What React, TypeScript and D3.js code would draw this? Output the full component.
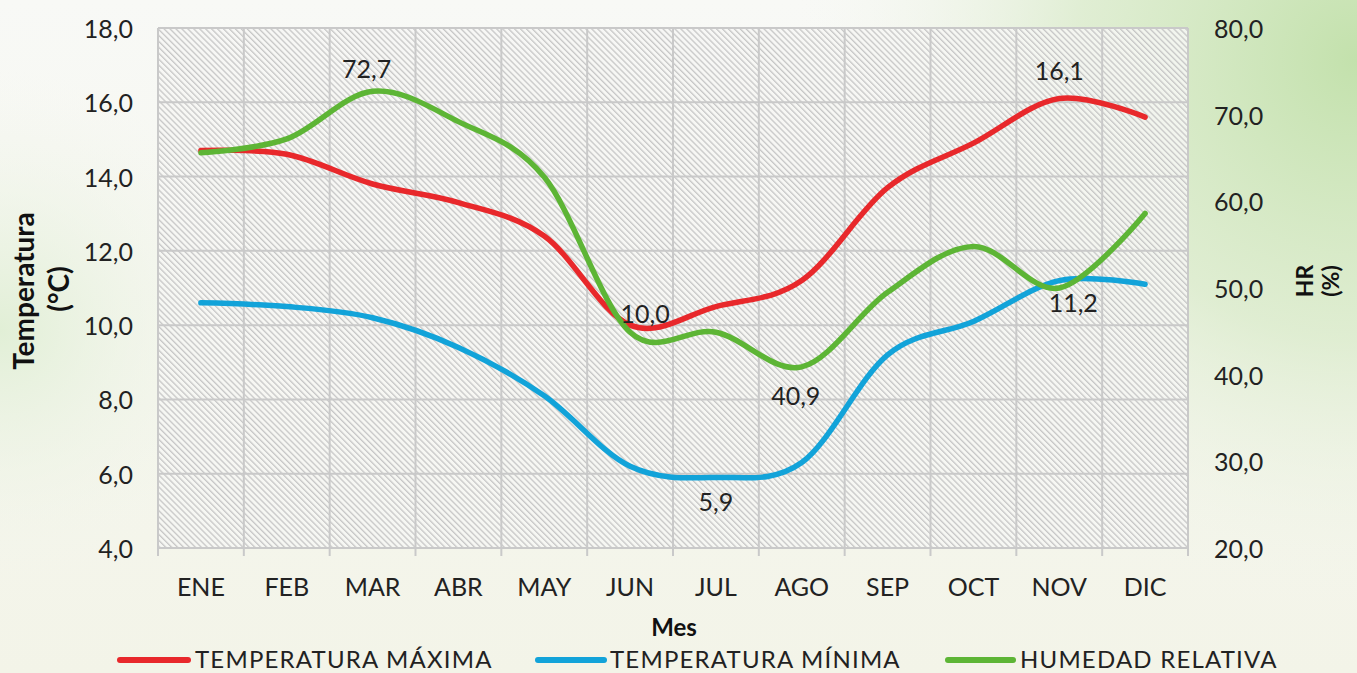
import React from "react";
import * as d3 from "d3";

const months = ["ENE", "FEB", "MAR", "ABR", "MAY", "JUN", "JUL", "AGO", "SEP", "OCT", "NOV", "DIC"];
const tempMax = [14.7, 14.6, 13.8, 13.3, 12.4, 10.0, 10.5, 11.2, 13.7, 14.9, 16.1, 15.6];
const tempMin = [10.6, 10.5, 10.2, 9.4, 8.1, 6.2, 5.9, 6.3, 9.2, 10.1, 11.2, 11.1];
const humedad = [65.6, 67.2, 72.7, 69.2, 62.8, 44.9, 44.9, 40.9, 49.5, 54.8, 50.0, 58.6];
const leftTicks = [4, 6, 8, 10, 12, 14, 16, 18];
const rightTicks = [20, 30, 40, 50, 60, 70, 80];
const seriesNames = ["TEMPERATURA MÁXIMA", "TEMPERATURA MÍNIMA", "HUMEDAD RELATIVA"];
const colors = ["#e8282b", "#12a3d9", "#5db535"];

// annotated values: series index, month index, offset
const labels = [
  { s: 2, i: 2, dx: -6, dy: -23 },
  { s: 0, i: 5, dx: 15, dy: -12 },
  { s: 1, i: 6, dx: 0, dy: 24 },
  { s: 2, i: 7, dx: -6, dy: 28 },
  { s: 0, i: 10, dx: 0, dy: -29 },
  { s: 1, i: 10, dx: 14, dy: 21 },
];

const W = 1357, H = 673;
const L = 158, R = 1188, T = 28, B = 548;
const FONT = "Lato, 'Open Sans', sans-serif";

export default function App() {
  const x = d3.scaleBand<string>().domain(months).range([L, R]).paddingInner(0).paddingOuter(0);
  const cx = (m: string) => (x(m) as number) + x.bandwidth() / 2;
  const yL = d3.scaleLinear().domain([4, 18]).range([B, T]);
  const yR = d3.scaleLinear().domain([20, 80]).range([B, T]);
  const fmt = (v: number) => d3.format(".1f")(v).replace(".", ",");

  const lineL = d3.line<number>().x((_, i) => cx(months[i])).y((v) => yL(v)).curve(d3.curveCardinal.tension(0));
  const lineR = d3.line<number>().x((_, i) => cx(months[i])).y((v) => yR(v)).curve(d3.curveCardinal.tension(0));
  const series = [tempMax, tempMin, humedad];
  const paths = [lineL(tempMax), lineL(tempMin), lineR(humedad)];
  const scaleFor = (s: number) => (s === 2 ? yR : yL);

  const bounds = months.map((m) => x(m) as number).concat([R]);

  const legendItems = [
    { x1: 120, x2: 188, tx: 195 },
    { x1: 538, x2: 604, tx: 610 },
    { x1: 948, x2: 1013, tx: 1020 },
  ];

  return (
    <svg width={W} height={H} style={{ position: "absolute", left: 0, top: 0 }} fontFamily={FONT}>
      <defs>
        <radialGradient id="gTR" cx="1357" cy="60" r="560" gradientUnits="userSpaceOnUse">
          <stop offset="0" stopColor="#c3e1ac" />
          <stop offset="0.5" stopColor="#d8eac8" stopOpacity="0.75" />
          <stop offset="1" stopColor="#f4f6ee" stopOpacity="0" />
        </radialGradient>
        <radialGradient id="gL" cx="0" cy="330" r="260" gradientUnits="userSpaceOnUse">
          <stop offset="0" stopColor="#e1efd6" />
          <stop offset="1" stopColor="#f4f6ee" stopOpacity="0" />
        </radialGradient>
        <linearGradient id="gBase" x1="0" y1="0" x2="0" y2="1">
          <stop offset="0" stopColor="#f8f9f6" />
          <stop offset="1" stopColor="#f3f4e8" />
        </linearGradient>
        <pattern id="hatch" patternUnits="userSpaceOnUse" width="4.2" height="4.2" patternTransform="rotate(45)">
          <rect width="4.2" height="4.2" fill="#f7f7f5" fillOpacity="0.85" />
          <line x1="0" y1="1" x2="4.2" y2="1" stroke="#c2c2c2" strokeWidth="1.2" />
        </pattern>
      </defs>
      <rect width={W} height={H} fill="url(#gBase)" />
      <rect width={W} height={H} fill="url(#gTR)" />
      <rect width={W} height={H} fill="url(#gL)" />

      {/* plot area */}
      <rect x={L} y={T} width={R - L} height={B - T} fill="url(#hatch)" />
      {leftTicks.map((t) => (
        <line key={"h" + t} x1={L} x2={R} y1={yL(t)} y2={yL(t)} stroke="#c9c9c9" strokeWidth={2} />
      ))}
      {bounds.map((b, i) => (
        <line key={"v" + i} x1={b} x2={b} y1={T} y2={B + 8} stroke="#c9c9c9" strokeWidth={2} />
      ))}

      {/* axis tick labels */}
      {leftTicks.map((t) => (
        <text key={"lt" + t} x={133} y={yL(t)} textAnchor="end" dominantBaseline="central" fontSize={25} fill="#222">
          {fmt(t)}
        </text>
      ))}
      {rightTicks.map((t) => (
        <text key={"rt" + t} x={1214} y={yR(t)} textAnchor="start" dominantBaseline="central" fontSize={25} fill="#222">
          {fmt(t)}
        </text>
      ))}
      {months.map((m) => (
        <text key={"m" + m} x={cx(m)} y={586} textAnchor="middle" dominantBaseline="central" fontSize={25} fill="#222">
          {m}
        </text>
      ))}

      {/* axis titles */}
      <g transform="translate(34,291) rotate(-90)">
        <text textAnchor="middle" fontSize={28} fontWeight="bold" fill="#111">Temperatura</text>
      </g>
      <g transform="translate(69,289) rotate(-90)">
        <text textAnchor="middle" fontSize={28} fontWeight="bold" fill="#111">(°C)</text>
      </g>
      <g transform="translate(1313,281) rotate(-90)">
        <text textAnchor="middle" fontSize={23} fontWeight="bold" fill="#111">HR</text>
      </g>
      <g transform="translate(1339,281) rotate(-90)">
        <text textAnchor="middle" fontSize={23} fontWeight="bold" fill="#111">(%)</text>
      </g>
      <text x={674} y={636} textAnchor="middle" fontSize={24} fontWeight="bold" fill="#111">Mes</text>

      {/* series */}
      {paths.map((p, i) => (
        <path key={"p" + i} d={p as string} fill="none" stroke={colors[i]} strokeWidth={5.5} strokeLinecap="round" />
      ))}

      {/* data labels */}
      {labels.map((lb, k) => {
        const v = series[lb.s][lb.i];
        return (
          <text key={"lb" + k} x={cx(months[lb.i]) + lb.dx} y={scaleFor(lb.s)(v) + lb.dy} textAnchor="middle"
            dominantBaseline="central" fontSize={25} fill="#222">
            {fmt(v)}
          </text>
        );
      })}

      {/* legend */}
      {legendItems.map((it, i) => (
        <g key={"lg" + i}>
          <line x1={it.x1} x2={it.x2} y1={660} y2={660} stroke={colors[i]} strokeWidth={6} strokeLinecap="round" />
          <text x={it.tx} y={668} fontSize={24} letterSpacing={1.2} fill="#222">{seriesNames[i]}</text>
        </g>
      ))}
    </svg>
  );
}
